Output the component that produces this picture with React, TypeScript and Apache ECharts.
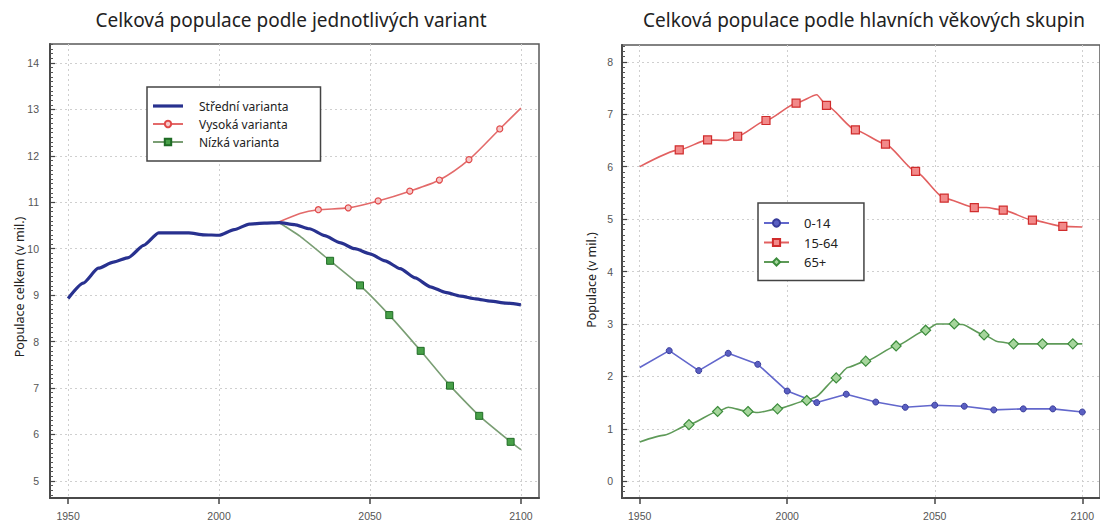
import React, { useEffect, useRef } from "react";
import * as echarts from "echarts";

// ---------- texts ----------
const leftTitle = "Celková populace podle jednotlivých variant";
const rightTitle = "Celková populace podle hlavních věkových skupin";
const leftYName = "Populace celkem (v mil.)";
const rightYName = "Populace (v mil.)";

// ---------- tick labels ----------
const xTickValues = [1950, 2000, 2050, 2100];
const leftYTickValues = [5, 6, 7, 8, 9, 10, 11, 12, 13, 14];
const rightYTickValues = [0, 1, 2, 3, 4, 5, 6, 7, 8];

// ---------- left chart: variants ----------
const stredniName = "Střední varianta";
const stredniYears = [1950, 1955, 1960, 1965, 1970, 1975, 1980, 1985, 1990, 1995, 2000, 2005, 2010, 2015, 2020, 2025, 2030, 2035, 2040, 2045, 2050, 2055, 2060, 2065, 2070, 2075, 2080, 2085, 2090, 2095, 2100];
const stredniValues = [8.93, 9.26, 9.58, 9.71, 9.81, 10.07, 10.34, 10.34, 10.34, 10.3, 10.29, 10.41, 10.53, 10.55, 10.56, 10.52, 10.43, 10.28, 10.13, 10.0, 9.89, 9.74, 9.57, 9.37, 9.18, 9.06, 8.98, 8.92, 8.87, 8.83, 8.79];

const vysokaName = "Vysoká varianta";
const vysokaYears = [2020, 2026.8, 2032.9, 2042.8, 2052.7, 2063.2, 2073, 2082.8, 2093, 2100];
const vysokaValues = [10.58, 10.76, 10.84, 10.88, 11.03, 11.24, 11.48, 11.92, 12.58, 13.03];
const vysokaMarkers = [false, false, true, true, true, true, true, true, true, false];

const nizkaName = "Nízká varianta";
const nizkaYears = [2020, 2026.8, 2036.8, 2046.7, 2056.4, 2066.8, 2076.5, 2086.2, 2096.6, 2100];
const nizkaValues = [10.56, 10.27, 9.74, 9.21, 8.57, 7.8, 7.05, 6.4, 5.84, 5.67];
const nizkaMarkers = [false, false, true, true, true, true, true, true, true, false];

// ---------- right chart: age groups ----------
const detiName = "0-14";
const detiYears = [1950, 1960, 1970, 1980, 1990, 2000, 2010, 2020, 2030, 2040, 2050, 2060, 2070, 2080, 2090, 2100];
const detiValues = [2.17, 2.49, 2.11, 2.44, 2.23, 1.72, 1.5, 1.66, 1.51, 1.41, 1.45, 1.43, 1.36, 1.38, 1.38, 1.32];
const detiMarkers = [false, true, true, true, true, true, true, true, true, true, true, true, true, true, true, true];

const produktivniName = "15-64";
const produktivniYears = [1950, 1963.4, 1973, 1979.5, 1983.2, 1992.8, 2003, 2010, 2013.3, 2023.1, 2033.3, 2043.5, 2053.2, 2063.4, 2067.5, 2073.2, 2083.1, 2093.4, 2100];
const produktivniValues = [6.0, 6.32, 6.51, 6.5, 6.58, 6.88, 7.21, 7.37, 7.17, 6.7, 6.43, 5.91, 5.4, 5.22, 5.22, 5.17, 4.98, 4.86, 4.85];
const produktivniMarkers = [false, true, true, false, true, true, true, false, true, true, true, true, true, true, false, true, true, true, false];

const senioriName = "65+";
const senioriYears = [1950, 1958.4, 1966.7, 1976.4, 1980, 1986.7, 1990, 1996.7, 2006.6, 2009.4, 2016.6, 2020.5, 2026.6, 2036.9, 2046.9, 2050.7, 2056.6, 2059.3, 2066.7, 2071.5, 2076.7, 2086.5, 2096.8, 2100];
const senioriValues = [0.75, 0.88, 1.08, 1.33, 1.41, 1.33, 1.31, 1.38, 1.54, 1.6, 1.97, 2.17, 2.29, 2.58, 2.88, 3.0, 3.0, 2.99, 2.79, 2.66, 2.62, 2.62, 2.62, 2.62];
const senioriMarkers = [false, false, true, true, false, true, false, true, true, false, true, false, true, true, true, false, true, false, true, false, true, true, true, false];

const FONT = "'Noto Sans', 'Open Sans', sans-serif";
const LABEL_FONT = "'Liberation Sans', Arial, sans-serif";

function build(years: number[], values: number[], markers?: boolean[]) {
  return years.map((y, i) => {
    const item: any = { value: [y, values[i]] };
    if (markers && !markers[i]) item.symbol = "none";
    return item;
  });
}

const plain = (v: number) => String(v);

function xAxisCfg(gridIndex: number) {
  return {
    type: "value",
    gridIndex,
    min: 1944,
    max: 2106,
    minInterval: 50,
    maxInterval: 50,
    splitNumber: 3,
    axisLine: { show: true, onZero: false, lineStyle: { color: "#4a4a4a", width: 2 } },
    axisTick: { show: true, inside: false, length: 6, customValues: xTickValues, lineStyle: { color: "#444", width: 1.5 } },
    axisLabel: { customValues: xTickValues, formatter: plain, margin: 12, color: "#555", fontSize: 10.5, fontFamily: LABEL_FONT },
    splitLine: { show: true, lineStyle: { color: "#cfcfcf", type: [2, 3], width: 1 } },
  };
}

function yAxisCfg(gridIndex: number, min: number, max: number, ticks: number[], margin: number) {
  return {
    type: "value",
    gridIndex,
    min,
    max,
    minInterval: 1,
    maxInterval: 1,
    splitNumber: 10,
    axisLine: { show: true, onZero: false, lineStyle: { color: "#4a4a4a", width: 2 } },
    axisTick: { show: true, inside: true, length: 5, customValues: ticks, lineStyle: { color: "#444", width: 1.2 } },
    minorTick: { show: true, splitNumber: 10, length: 3, lineStyle: { color: "#555", width: 1 } },
    axisLabel: { customValues: ticks, formatter: plain, margin, color: "#555", fontSize: 10.5, fontFamily: LABEL_FONT },
    splitLine: { show: true, lineStyle: { color: "#cfcfcf", type: [2, 3], width: 1 } },
  };
}

export default function App() {
  const ref = useRef<HTMLDivElement>(null);

  useEffect(() => {
    if (!ref.current) return;
    const chart = echarts.init(ref.current, undefined, { renderer: "svg" });

    const option: any = {
      animation: false,
      backgroundColor: "#ffffff",
      grid: [
        { left: 50, top: 44, width: 489, height: 454, show: true, borderColor: "#5a5a5a", borderWidth: 1.5, backgroundColor: "transparent" },
        { left: 622, top: 45, width: 487, height: 453, show: true, borderColor: "#5a5a5a", borderWidth: 1.5, backgroundColor: "transparent" },
      ],
      xAxis: [xAxisCfg(0), xAxisCfg(1)],
      yAxis: [
        yAxisCfg(0, 4.63, 14.41, leftYTickValues, 11),
        yAxisCfg(1, -0.32, 8.32, rightYTickValues, 9),
      ],
      legend: [
        {
          orient: "vertical",
          left: 147,
          top: 87,
          itemWidth: 30,
          itemHeight: 8,
          itemGap: 6,
          padding: [13, 32, 13, 5],
          borderColor: "#444",
          borderWidth: 1.5,
          borderRadius: 0,
          backgroundColor: "#ffffff",
          textStyle: { fontFamily: FONT, fontSize: 12, color: "#222", padding: [0, 0, 0, 11] },
          data: [
            { name: stredniName, icon: "path://M0,0L30,0L30,3.2L0,3.2Z" },
            vysokaName,
            nizkaName,
          ],
        },
        {
          orient: "vertical",
          left: 758,
          top: 203,
          itemWidth: 25,
          itemHeight: 9,
          itemGap: 6.5,
          padding: [13.5, 26, 12, 5],
          borderColor: "#444",
          borderWidth: 1.5,
          borderRadius: 0,
          backgroundColor: "#ffffff",
          textStyle: { fontFamily: FONT, fontSize: 13, color: "#222", padding: [0, 0, 0, 10] },
          data: [detiName, produktivniName, senioriName],
        },
      ],
      graphic: [
        { type: "text", x: 291, y: 20, style: { text: leftTitle, fontFamily: FONT, fontSize: 19, fill: "#222", textAlign: "center", textVerticalAlign: "middle" } },
        { type: "text", x: 864, y: 20, style: { text: rightTitle, fontFamily: FONT, fontSize: 19, fill: "#222", textAlign: "center", textVerticalAlign: "middle" } },
        { type: "text", x: 19, y: 287, rotation: Math.PI / 2, style: { text: leftYName, fontFamily: FONT, fontSize: 12.5, fill: "#222", textAlign: "center", textVerticalAlign: "middle" } },
        { type: "text", x: 591, y: 280, rotation: Math.PI / 2, style: { text: rightYName, fontFamily: FONT, fontSize: 12.5, fill: "#222", textAlign: "center", textVerticalAlign: "middle" } },
      ],
      series: [
        {
          name: stredniName,
          type: "line",
          xAxisIndex: 0,
          yAxisIndex: 0,
          data: build(stredniYears, stredniValues),
          symbol: "none",
          smooth: 0.2,
          smoothMonotone: "x",
          lineStyle: { color: "#28318f", width: 3.2 },
          itemStyle: { color: "#28318f" },
          z: 4,
        },
        {
          name: vysokaName,
          type: "line",
          xAxisIndex: 0,
          yAxisIndex: 0,
          data: build(vysokaYears, vysokaValues, vysokaMarkers),
          symbol: "circle",
          symbolSize: 6,
          smooth: 0.25,
          lineStyle: { color: "#e36a6a", width: 1.6 },
          itemStyle: { color: "#f6c9c9", borderColor: "#e04848", borderWidth: 1.2 },
          z: 3,
        },
        {
          name: nizkaName,
          type: "line",
          xAxisIndex: 0,
          yAxisIndex: 0,
          data: build(nizkaYears, nizkaValues, nizkaMarkers),
          symbol: "rect",
          symbolSize: 7,
          smooth: 0.15,
          lineStyle: { color: "#7a9e74", width: 1.6 },
          itemStyle: { color: "#48a048", borderColor: "#1f6b25", borderWidth: 1 },
          z: 3,
        },
        {
          name: detiName,
          type: "line",
          xAxisIndex: 1,
          yAxisIndex: 1,
          data: build(detiYears, detiValues, detiMarkers),
          symbol: "circle",
          symbolSize: 6,
          smooth: false,
          lineStyle: { color: "#6267cc", width: 1.6 },
          itemStyle: { color: "#5a5fc2", borderColor: "#383c9a", borderWidth: 1 },
          z: 3,
        },
        {
          name: produktivniName,
          type: "line",
          xAxisIndex: 1,
          yAxisIndex: 1,
          data: build(produktivniYears, produktivniValues, produktivniMarkers),
          symbol: "rect",
          symbolSize: 8,
          smooth: 0.2,
          smoothMonotone: "x",
          lineStyle: { color: "#e26060", width: 1.6 },
          itemStyle: { color: "#f28a8a", borderColor: "#d02c2c", borderWidth: 1.2 },
          z: 3,
        },
        {
          name: senioriName,
          type: "line",
          xAxisIndex: 1,
          yAxisIndex: 1,
          data: build(senioriYears, senioriValues, senioriMarkers),
          symbol: "diamond",
          symbolSize: 10,
          smooth: 0.2,
          smoothMonotone: "x",
          lineStyle: { color: "#5e9a58", width: 1.6 },
          itemStyle: { color: "#a6d69c", borderColor: "#3c8c3c", borderWidth: 1.2 },
          z: 3,
        },
      ],
    };

    chart.setOption(option);
    return () => chart.dispose();
  }, []);

  return <div ref={ref} style={{ position: "absolute", left: 0, top: 0, width: 1100, height: 527 }} />;
}
